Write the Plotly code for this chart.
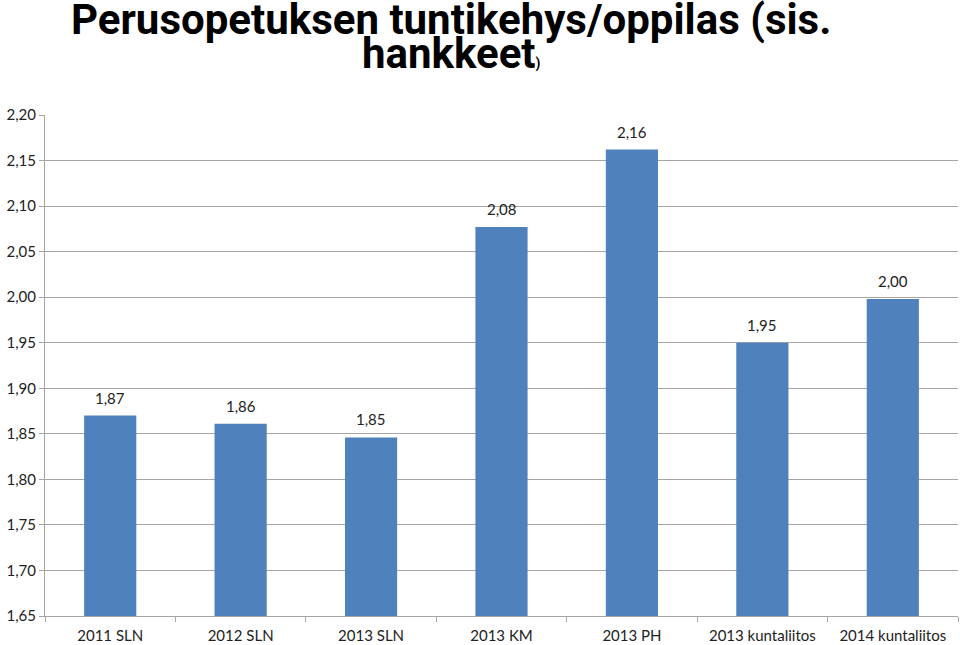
import plotly.graph_objects as go

categories = ["2011 SLN", "2012 SLN", "2013 SLN", "2013 KM", "2013 PH", "2013 kuntaliitos", "2014 kuntaliitos"]
values = [1.870, 1.861, 1.846, 2.077, 2.162, 1.950, 1.998]
tick_vals = [1.65, 1.70, 1.75, 1.80, 1.85, 1.90, 1.95, 2.00, 2.05, 2.10, 2.15, 2.20]
title_line1 = "Perusopetuksen tuntikehys/oppilas (sis."
title_line2 = "hankkeet"

FONT = "Lato"
TFONT = "Roboto"

fig = go.Figure(go.Bar(
    x=categories, y=values,
    marker=dict(color="#4F81BD", line=dict(width=0)),
    width=0.4,
))

label_anns = [
    dict(x=c, y=v, xref="x", yref="y", text=f"{v:.2f}".replace(".", ","),
         showarrow=False, yanchor="bottom", yshift=7,
         font=dict(family=FONT, size=15, color="#222222"))
    for c, v in zip(categories, values)
]

fig.update_layout(
    width=960, height=645,
    margin=dict(l=45, r=2, t=115, b=29),
    paper_bgcolor="white", plot_bgcolor="white",
    separators=", ",
    showlegend=False,
    font=dict(family=FONT, size=15, color="#222222"),
    bargap=0.6,
    annotations=[
        dict(text=title_line1, xref="paper", yref="paper", x=0.445, y=1.0, yshift=96,
             xanchor="center", yanchor="middle", showarrow=False,
             font=dict(family=TFONT, size=42, color="black", weight="bold")),
        dict(text=title_line2 + "<span style='font-size:14px'>)</span>", xref="paper", yref="paper",
             x=0.445, y=1.0, yshift=62, xanchor="center", yanchor="middle", showarrow=False,
             font=dict(family=TFONT, size=42, color="black", weight="bold")),
    ] + label_anns,
)

fig.update_yaxes(
    range=[1.65, 2.20], tickvals=tick_vals, tickformat=".2f",
    showgrid=True, gridcolor="#A6A6A6", gridwidth=1,
    showline=True, linecolor="#A6A6A6", linewidth=1,
    ticks="outside", ticklen=5, tickcolor="#A6A6A6",
    zeroline=False, tickfont=dict(family=FONT, size=15, color="#222222"),
)
fig.update_xaxes(
    showline=True, linecolor="#A6A6A6", linewidth=1,
    ticks="outside", ticklen=5, tickcolor="#A6A6A6", tickson="boundaries",
    ticklabelstandoff=6,
    tickfont=dict(family=FONT, size=15, color="#222222"),
)

fig.write_html("out.html")
